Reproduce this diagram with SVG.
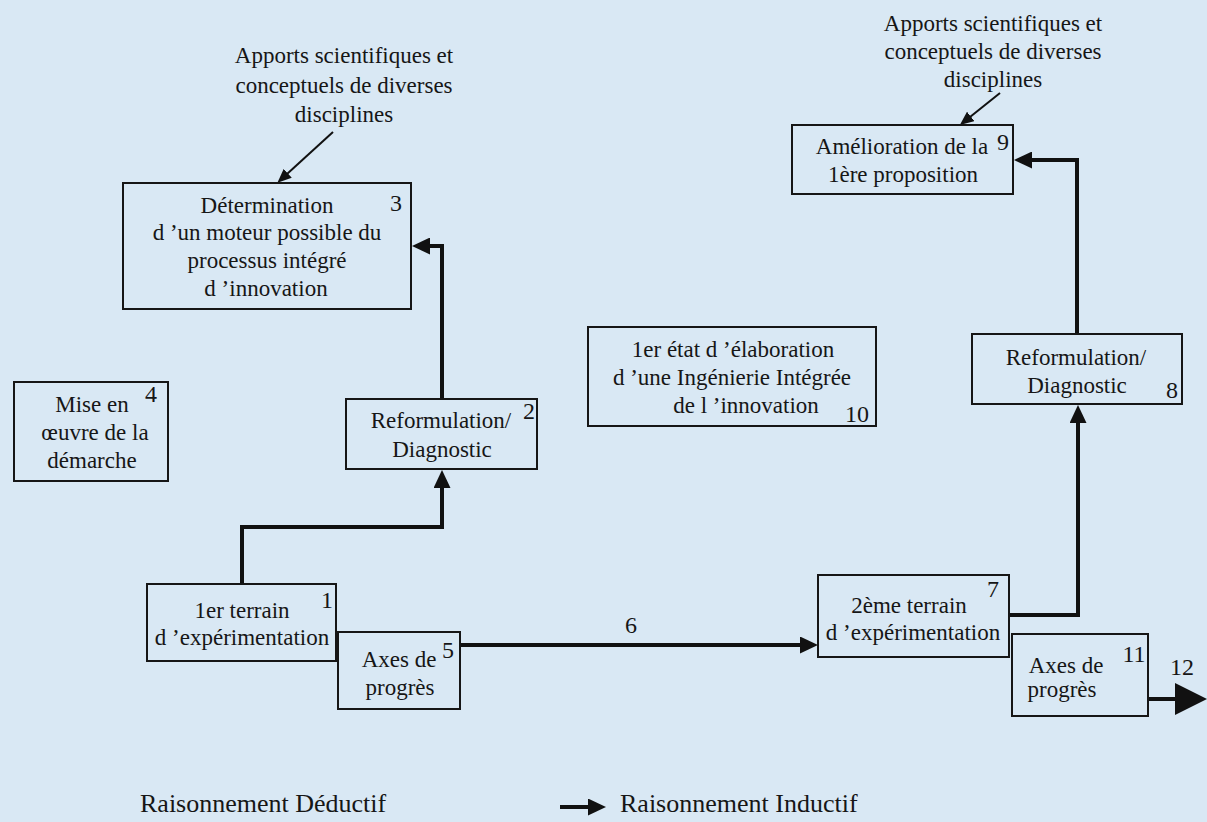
<svg xmlns="http://www.w3.org/2000/svg" width="1207" height="822" viewBox="0 0 1207 822">
<style>
  .bg { fill: #d9e8f4; }
  .box { fill: none; stroke: #161616; stroke-width: 2; }
  .t { font-family: "Liberation Serif", "Times New Roman", serif; font-size: 23px; fill: #161616; text-anchor: middle; }
  .n { font-family: "Liberation Serif", "Times New Roman", serif; font-size: 24px; fill: #161616; text-anchor: middle; }
  .lg { font-family: "Liberation Serif", "Times New Roman", serif; font-size: 26px; fill: #161616; }
  .c { fill: none; stroke: #111; stroke-width: 4; }
  .d { fill: none; stroke: #111; stroke-width: 2; }
</style>
<defs>
  <marker id="ah" viewBox="0 0 18 17" markerWidth="18" markerHeight="17" markerUnits="userSpaceOnUse" refX="1" refY="8.5" orient="auto">
    <path d="M0,0 L18,8.5 L0,17 z" fill="#111"/>
  </marker>
  <marker id="ahs" viewBox="0 0 14 12" markerWidth="14" markerHeight="12" markerUnits="userSpaceOnUse" refX="1" refY="6" orient="auto">
    <path d="M0,0 L14,6 L0,12 z" fill="#111"/>
  </marker>
  <marker id="ahb" viewBox="0 0 32 32" markerWidth="32" markerHeight="32" markerUnits="userSpaceOnUse" refX="1" refY="16" orient="auto">
    <path d="M0,0 L32,16 L0,32 z" fill="#111"/>
  </marker>
</defs>
<rect class="bg" x="0" y="0" width="1207" height="822"/>

<g id="connectors">
  <path class="c" d="M242,584 V527 H442 V487" marker-end="url(#ah)"/>
  <path class="c" d="M442,399 V246 H429" marker-end="url(#ah)"/>
  <path class="d" d="M333,132 L287,174" marker-end="url(#ahs)"/>
  <path class="c" d="M460,645 H801" marker-end="url(#ah)"/>
  <text class="n" x="631" y="633">6</text>
  <path class="c" d="M1008,615 H1078 V422" marker-end="url(#ah)"/>
  <path class="c" d="M1077,334 V160 H1031" marker-end="url(#ah)"/>
  <path class="d" d="M1000,93 L970,117" marker-end="url(#ahs)"/>
  <path class="c" d="M1148,699 H1176" stroke-width="5" marker-end="url(#ahb)"/>
  <text class="n" x="1182" y="675">12</text>
</g>

<g id="note-left">
  <text class="t" x="344" y="63">Apports scientifiques et</text>
  <text class="t" x="344" y="93">conceptuels de diverses</text>
  <text class="t" x="344" y="122">disciplines</text>
</g>

<g id="note-right">
  <text class="t" x="993" y="31">Apports scientifiques et</text>
  <text class="t" x="993" y="59">conceptuels de diverses</text>
  <text class="t" x="993" y="87">disciplines</text>
</g>

<g id="node3">
  <rect class="box" x="123" y="183" width="288" height="126"/>
  <text class="t" x="267" y="213">Détermination</text>
  <text class="t" x="267" y="240">d ’un moteur possible du</text>
  <text class="t" x="267" y="268">processus intégré</text>
  <text class="t" x="266" y="296">d ’innovation</text>
  <text class="n" x="396" y="211">3</text>
</g>

<g id="node4">
  <rect class="box" x="14" y="382" width="154" height="99"/>
  <text class="t" x="92" y="412">Mise en</text>
  <text class="t" x="95" y="440">œuvre de la</text>
  <text class="t" x="92" y="468">démarche</text>
  <text class="n" x="151" y="402">4</text>
</g>

<g id="node2">
  <rect class="box" x="346" y="399" width="191" height="70"/>
  <text class="t" x="441" y="428">Reformulation/</text>
  <text class="t" x="442" y="457">Diagnostic</text>
  <text class="n" x="529" y="419">2</text>
</g>

<g id="node1">
  <rect class="box" x="147" y="584" width="189" height="77"/>
  <text class="t" x="242" y="618">1er terrain</text>
  <text class="t" x="242" y="645">d ’expérimentation</text>
  <text class="n" x="327" y="608">1</text>
</g>

<g id="node5">
  <rect class="box" x="338" y="632" width="122" height="77"/>
  <text class="t" x="399" y="667">Axes de</text>
  <text class="t" x="400" y="695">progrès</text>
  <text class="n" x="448" y="658">5</text>
</g>

<g id="node10">
  <rect class="box" x="588" y="327" width="288" height="99"/>
  <text class="t" x="733" y="357">1er état d ’élaboration</text>
  <text class="t" x="732" y="385">d ’une Ingénierie Intégrée</text>
  <text class="t" x="746" y="413">de l ’innovation</text>
  <text class="n" x="857" y="422">10</text>
</g>

<g id="node7">
  <rect class="box" x="818" y="575" width="191" height="82"/>
  <text class="t" x="909" y="613">2ème terrain</text>
  <text class="t" x="913" y="640">d ’expérimentation</text>
  <text class="n" x="993" y="597">7</text>
</g>

<g id="node11">
  <rect class="box" x="1012" y="634" width="136" height="82"/>
  <text class="t" x="1066" y="673">Axes de</text>
  <text class="t" x="1062" y="697">progrès</text>
  <text class="n" x="1134" y="662">11</text>
</g>

<g id="node8">
  <rect class="box" x="972" y="334" width="210" height="70"/>
  <text class="t" x="1076" y="365">Reformulation/</text>
  <text class="t" x="1077" y="393">Diagnostic</text>
  <text class="n" x="1172" y="398">8</text>
</g>

<g id="node9">
  <rect class="box" x="792" y="125" width="221" height="69"/>
  <text class="t" x="902" y="154">Amélioration de la</text>
  <text class="t" x="903" y="182">1ère proposition</text>
  <text class="n" x="1003" y="150">9</text>
</g>

<g id="legend">
  <text class="lg" x="140" y="812">Raisonnement Déductif</text>
  <path class="c" d="M560,807 H589" stroke-width="5" marker-end="url(#ah)"/>
  <text class="lg" x="620" y="812">Raisonnement Inductif</text>
</g>
</svg>
